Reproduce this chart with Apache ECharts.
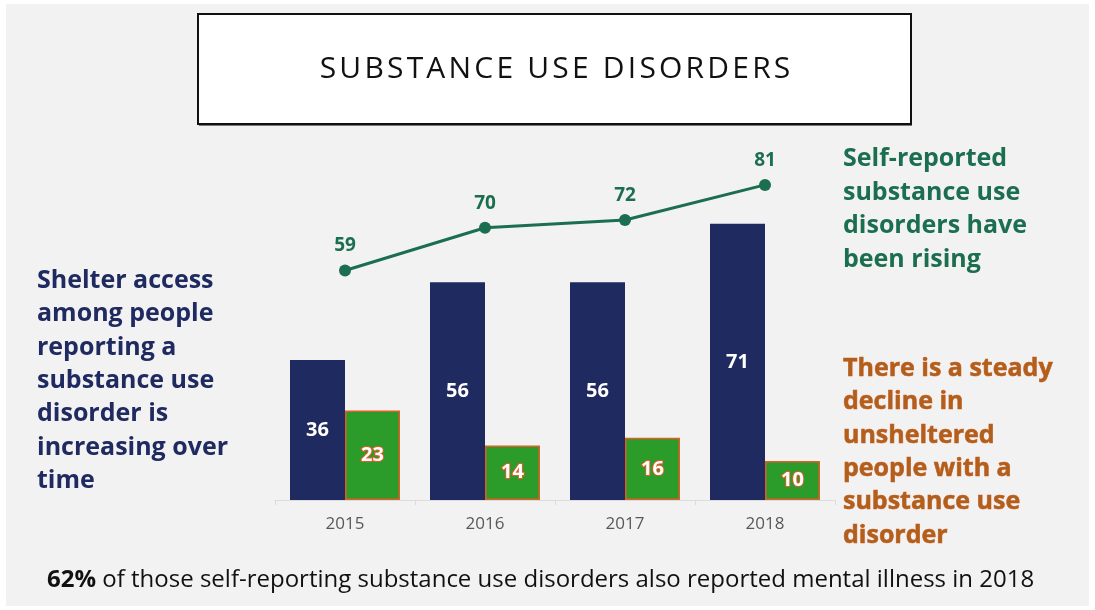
<!DOCTYPE html>
<html>
<head>
<meta charset="utf-8">
<script src="https://cdn.jsdelivr.net/npm/echarts@6/dist/echarts.min.js"></script>
<style>
html,body{margin:0;padding:0;background:#ffffff;}
#chart{width:1095px;height:610px;}
</style>
</head>
<body>
<div id="chart"></div>
<script>
const categories = ['2015', '2016', '2017', '2018'];
const shelteredValues = [36, 56, 56, 71];
const unshelteredValues = [23, 14, 16, 10];
const selfReportedValues = [59, 70, 72, 81];

const titleText = 'SUBSTANCE USE DISORDERS';
const leftNote = 'Shelter access\namong people\nreporting a\nsubstance use\ndisorder is\nincreasing over\ntime';
const rightTopNote = 'Self-reported\nsubstance use\ndisorders have\nbeen rising';
const rightBottomNote = 'There is a steady\ndecline in\nunsheltered\npeople with a\nsubstance use\ndisorder';
const footBold = '62%';
const footRest = ' of those self-reporting substance use disorders also reported mental illness in 2018';

const NAVY = '#1f2a60';
const GREEN = '#2b9b2a';
const ORANGE = '#de5f26';
const TEAL = '#1b6e4f';
const FONT = '"Open Sans", Lato, sans-serif';

// slightly spaced title: each character is its own rich token with side padding
const titleRich = titleText.split('').map(function (ch) { return '{t|' + ch + '}'; }).join('');

const chart = echarts.init(document.getElementById('chart'), null, {renderer: 'canvas'});
chart.setOption({
  backgroundColor: '#ffffff',
  animation: false,
  grid: {left: 275, right: 260, top: 111, bottom: 110},
  xAxis: {
    type: 'category',
    data: categories,
    axisLine: {show: true, lineStyle: {color: '#dcdcdc', width: 1}},
    axisTick: {show: true, lineStyle: {color: '#dcdcdc'}},
    axisLabel: {color: '#595959', fontFamily: FONT, fontSize: 17, margin: 16}
  },
  yAxis: {
    type: 'value', min: 0, max: 100,
    show: false, splitLine: {show: false}
  },
  graphic: [
    {type: 'rect', z: -10, shape: {x: 6, y: 4, width: 1083, height: 602}, style: {fill: '#f2f2f2'}},
    {type: 'rect', z: -5, shape: {x: 199, y: 16, width: 713, height: 110}, style: {fill: '#7a7a7a'}},
    {type: 'rect', z: -4, shape: {x: 198, y: 14, width: 713, height: 110}, style: {fill: '#ffffff', stroke: '#111111', lineWidth: 2}},
    {type: 'text', z: 10, x: 555, y: 69, style: {
      text: titleRich, textAlign: 'center', textVerticalAlign: 'middle',
      rich: {t: {fontFamily: FONT, fontWeight: 'normal', fontSize: 30, fill: '#111111', padding: [0, 1.6, 0, 1.6]}}
    }},
    {type: 'text', z: 10, x: 37, y: 264, style: {text: leftNote, fill: NAVY, font: 'bold 25px ' + FONT, lineHeight: 33.4, textAlign: 'left', textVerticalAlign: 'top'}},
    {type: 'text', z: 10, x: 843, y: 142, style: {text: rightTopNote, fill: TEAL, font: 'bold 25px ' + FONT, lineHeight: 33.6, textAlign: 'left', textVerticalAlign: 'top'}},
    {type: 'text', z: 10, x: 843, y: 352, style: {text: rightBottomNote, fill: '#b05f1c', stroke: ORANGE, lineWidth: 0.6, font: 'bold 25px ' + FONT, lineHeight: 33.4, textAlign: 'left', textVerticalAlign: 'top'}},
    {type: 'text', z: 10, x: 47, y: 580, style: {
      text: '{b|' + footBold + '}{r|' + footRest + '}',
      textVerticalAlign: 'middle', textAlign: 'left',
      rich: {
        b: {fontFamily: FONT, fontWeight: 'bold', fontSize: 24, fill: '#111111'},
        r: {fontFamily: FONT, fontWeight: 'normal', fontSize: 24, fill: '#111111'}
      }
    }}
  ],
  series: [
    {
      name: 'Sheltered', type: 'bar', data: shelteredValues,
      barWidth: 55, barGap: '0%',
      itemStyle: {color: NAVY},
      label: {show: true, position: 'inside', color: '#ffffff', fontFamily: FONT, fontWeight: 'bold', fontSize: 20}
    },
    {
      name: 'Unsheltered', type: 'bar', data: unshelteredValues,
      barWidth: 55, barGap: '0%',
      itemStyle: {color: GREEN, borderColor: ORANGE, borderWidth: 1.5},
      label: {show: true, position: 'inside', color: '#ffffff', textBorderColor: ORANGE, textBorderWidth: 2, fontFamily: FONT, fontWeight: 'bold', fontSize: 20}
    },
    {
      name: 'Self-reported', type: 'line', data: selfReportedValues,
      symbol: 'circle', symbolSize: 12,
      lineStyle: {color: TEAL, width: 3},
      itemStyle: {color: TEAL},
      z: 5,
      label: {show: true, position: 'top', distance: 9, color: TEAL, fontFamily: FONT, fontWeight: 'bold', fontSize: 19}
    }
  ]
});
</script>
</body>
</html>
